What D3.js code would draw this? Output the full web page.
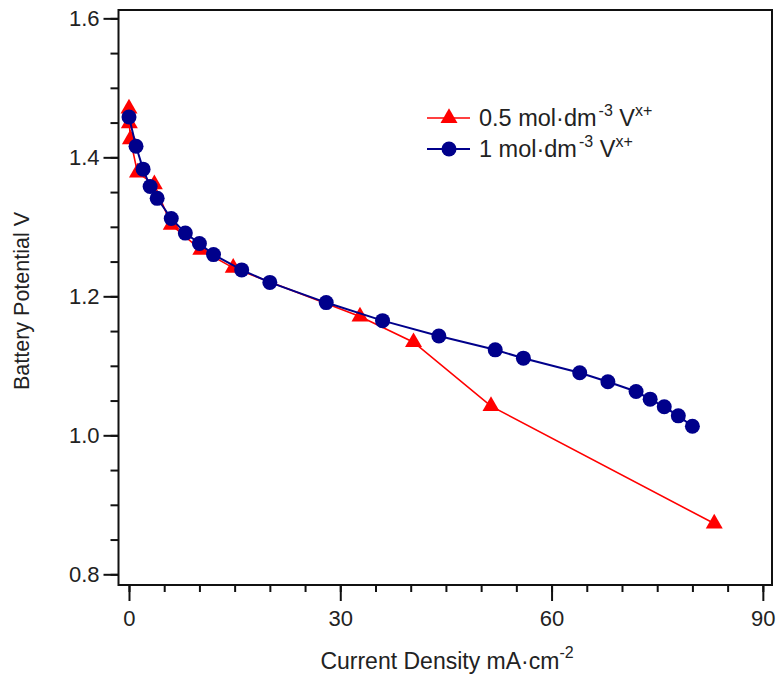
<!DOCTYPE html>
<html>
<head>
<meta charset="utf-8">
<script src="https://cdn.jsdelivr.net/npm/d3@7"></script>
<style>
  body { margin: 0; background: #fff; }
  text { font-family: "Liberation Sans", Arial, sans-serif; fill: #222; }
</style>
</head>
<body>
<div id="chart"></div>
<script>
// data
const lowConc_x = [0, 0.05, 0.2, 1.2, 3.6, 6, 10.2, 14.8, 32.8, 40.4, 51.4, 83.1];
const lowConc_y = [1.470, 1.449, 1.426, 1.378, 1.361, 1.303, 1.267, 1.241, 1.171, 1.134, 1.042, 0.873];
const highConc_x = [0, 1, 2, 3, 4, 6, 8, 10, 12, 16, 20, 28, 36, 44, 52, 56, 64, 68, 72, 74, 76, 78, 80];
const highConc_y = [1.458, 1.416, 1.383, 1.358, 1.341, 1.312, 1.291, 1.276, 1.260, 1.238, 1.220, 1.191,
                    1.165, 1.143, 1.123, 1.111, 1.090, 1.077, 1.063, 1.052, 1.041, 1.028, 1.013];
const xMajorTicks = [0, 30, 60, 90];
const xMinorTicks = d3.range(0, 91, 5);
const yMajorTicks = [0.8, 1.0, 1.2, 1.4, 1.6];
const yMinorTicks = d3.range(0.8, 1.601, 0.05);

const W = 776, H = 677;
const margin = {top: 10, right: 4, bottom: 92, left: 118.5},
    width = W - margin.left - margin.right,
    height = H - margin.top - margin.bottom;

const svg = d3.select("#chart")
  .append("svg")
    .attr("width", W)
    .attr("height", H)
  .append("g")
    .attr("transform", "translate(" + margin.left + "," + margin.top + ")");

const x = d3.scaleLinear().domain([-1.49, 91.3]).range([0, width]);
const y = d3.scaleLinear().domain([0.7846, 1.612]).range([height, 0]);

// minor ticks first, then majors with labels
const xMinor = svg.append("g")
  .attr("transform", `translate(0,${height})`)
  .call(d3.axisBottom(x).tickValues(xMinorTicks).tickSize(7).tickFormat(""));
const xMajor = svg.append("g")
  .attr("transform", `translate(0,${height})`)
  .call(d3.axisBottom(x).tickValues(xMajorTicks).tickSize(16).tickPadding(9).tickFormat(d3.format("d")));
const yMinor = svg.append("g")
  .call(d3.axisLeft(y).tickValues(yMinorTicks).tickSize(8).tickFormat(""));
const yMajor = svg.append("g")
  .call(d3.axisLeft(y).tickValues(yMajorTicks).tickSize(15).tickPadding(4).tickFormat(d3.format(".1f")));

[xMinor, xMajor, yMinor, yMajor].forEach(g => {
  g.select(".domain").remove();
  g.selectAll("line").attr("stroke", "#111").attr("stroke-width", 2);
  g.selectAll("text").style("font-size", "22px").attr("fill", "#222");
});

// frame
svg.append("rect")
  .attr("width", width).attr("height", height)
  .attr("fill", "none").attr("stroke", "#111").attr("stroke-width", 2);

// series
const lowData = lowConc_x.map((d, i) => [d, lowConc_y[i]]);
const highData = highConc_x.map((d, i) => [d, highConc_y[i]]);
const line = d3.line().x(d => x(d[0])).y(d => y(d[1]));
const tri = d3.symbol().type(d3.symbolTriangle).size(125);

svg.append("path").datum(lowData)
  .attr("fill", "none").attr("stroke", "#ff0000").attr("stroke-width", 1.6)
  .attr("d", line);
svg.selectAll(".tri").data(lowData).enter().append("path")
  .attr("class", "tri")
  .attr("transform", d => `translate(${x(d[0])},${y(d[1])})`)
  .attr("d", tri).attr("fill", "#ff0000");

svg.append("path").datum(highData)
  .attr("fill", "none").attr("stroke", "#00008b").attr("stroke-width", 2)
  .attr("d", line);
svg.selectAll(".dot").data(highData).enter().append("circle")
  .attr("class", "dot")
  .attr("cx", d => x(d[0])).attr("cy", d => y(d[1]))
  .attr("r", 7.5).attr("fill", "#00008b");

// legend
const legend = svg.append("g").attr("transform", `translate(${427 - margin.left},${118 - margin.top})`);
const legendItems = [
  {label: "0.5", color: "#ff0000", shape: "tri"},
  {label: "1", color: "#00008b", shape: "dot"}
];
legendItems.forEach((it, i) => {
  const g = legend.append("g").attr("transform", `translate(0,${i * 31})`);
  g.append("line").attr("x1", 0).attr("x2", 43).attr("stroke", it.color)
    .attr("stroke-width", it.shape === "tri" ? 1.6 : 2);
  if (it.shape === "tri") {
    g.append("path").attr("transform", "translate(22,0)").attr("d", tri).attr("fill", it.color);
  } else {
    g.append("circle").attr("cx", 22).attr("r", 7.5).attr("fill", it.color);
  }
  const t = g.append("text").attr("x", 52).attr("y", 8).style("font-size", "23.5px");
  t.append("tspan").text(it.label + " mol\u00b7dm");
  t.append("tspan").attr("dy", -10).attr("dx", 2).style("font-size", "16px").text("-3");
  t.append("tspan").attr("dy", 10).text(" V");
  t.append("tspan").attr("dy", -10).style("font-size", "16px").text("x+");
});

// axis labels
svg.append("text")
  .attr("text-anchor", "middle")
  .attr("transform", `translate(${29 - margin.left},${301 - margin.top}) rotate(-90)`)
  .style("font-size", "21.5px")
  .text("Battery Potential V");

const xl = svg.append("text")
  .attr("text-anchor", "middle")
  .attr("transform", `translate(${447 - margin.left},${669 - margin.top})`)
  .style("font-size", "23px");
xl.append("tspan").text("Current Density mA\u00b7cm");
xl.append("tspan").attr("dy", -11).style("font-size", "16px").text("-2");
</script>
</body>
</html>
